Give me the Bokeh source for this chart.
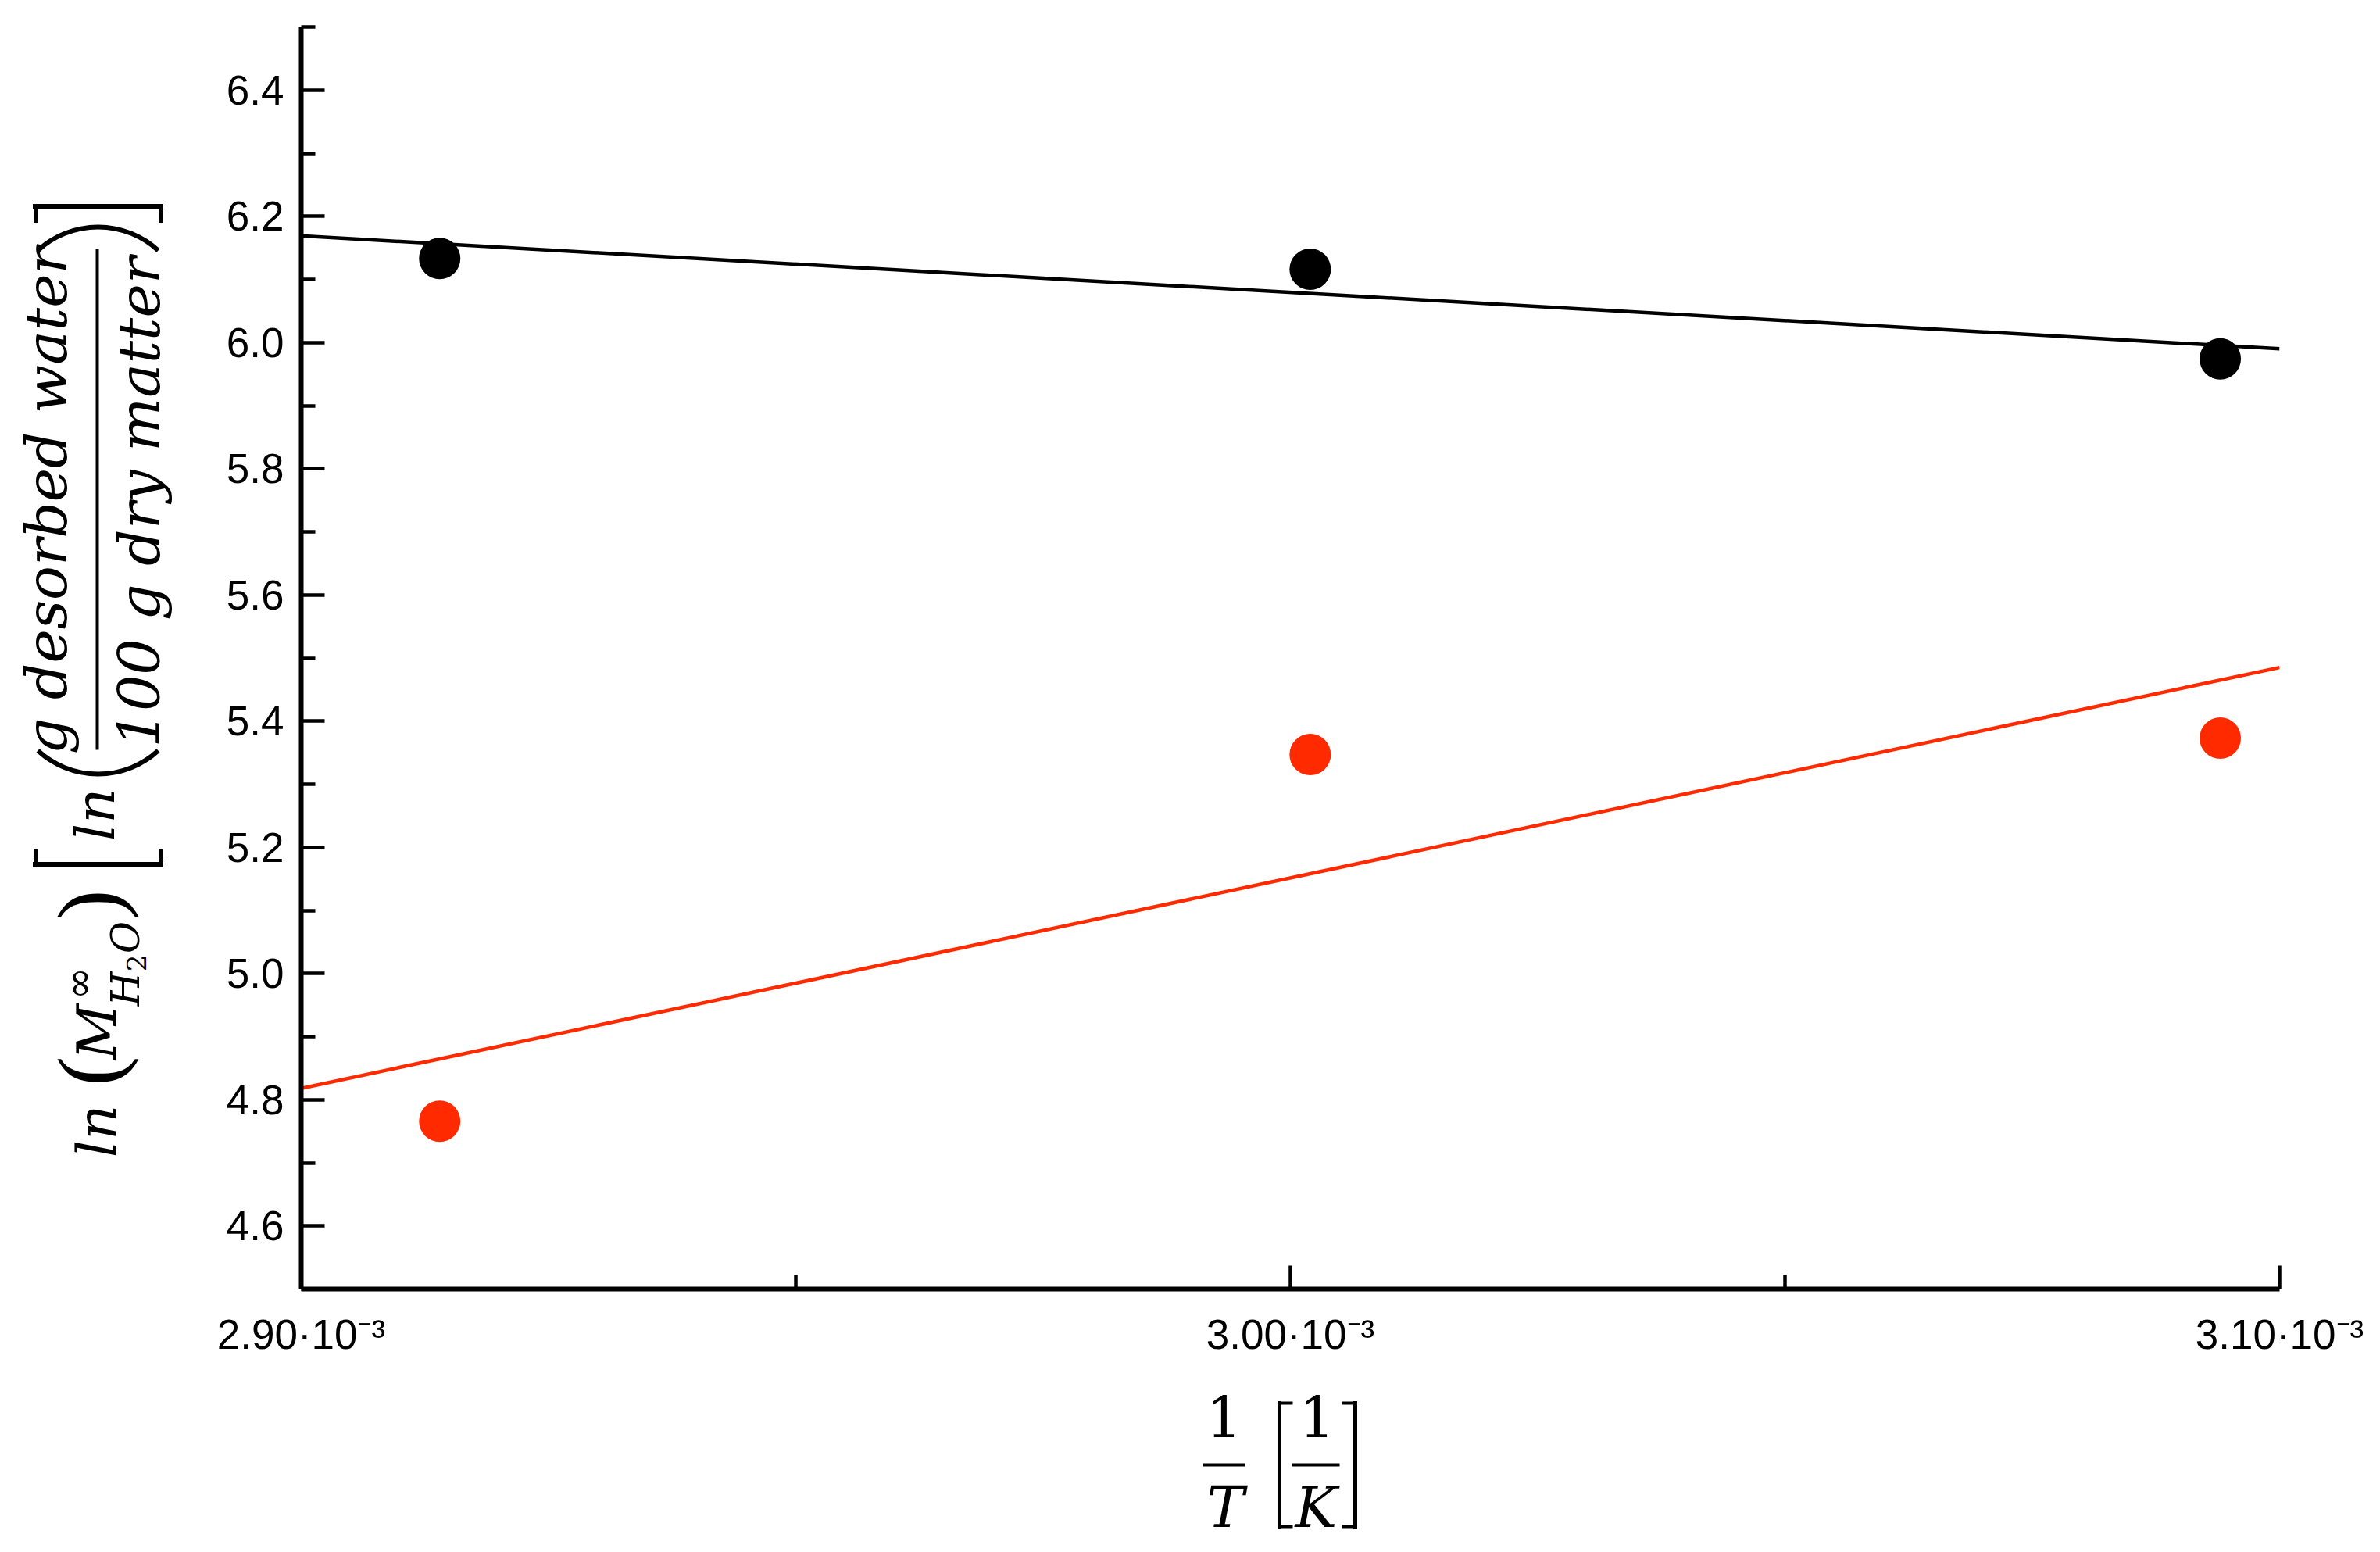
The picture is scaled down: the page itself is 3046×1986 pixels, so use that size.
from math import pi, asin
from bokeh.plotting import figure
from bokeh.layouts import row, column
from bokeh.models import Range1d, FixedTicker
from bokeh.core.properties import value
from bokeh.embed import file_html
from bokeh.resources import INLINE

# ---------------- data ----------------
inv_T = [0.002914, 0.003002, 0.003094]            # 1/T [1/K]
black_ln_M = [6.133, 6.116, 5.974]
red_ln_M = [4.766, 5.347, 5.373]
fit_inv_T = [0.00290, 0.00310]
black_fit = [6.169, 5.990]
red_fit = [4.818, 5.485]

x_ticks = [0.00290, 0.00300, 0.00310]
x_tick_labels = ["2.90·10⁻³", "3.00·10⁻³", "3.10·10⁻³"]
x_minor_ticks = [0.00295, 0.00305]
y_ticks = [4.6, 4.8, 5.0, 5.2, 5.4, 5.6, 5.8, 6.0, 6.2, 6.4]
y_tick_labels = ["4.6", "4.8", "5.0", "5.2", "5.4", "5.6", "5.8", "6.0", "6.2", "6.4"]
y_minor_ticks = [4.5, 4.7, 4.9, 5.1, 5.3, 5.5, 5.7, 5.9, 6.1, 6.3, 6.5]
x_lim = [0.00290, 0.00310]
y_lim = [4.5, 6.5]

# ---------------- layout (page pixels) ----------------
W, H = 3030, 1984
WL = 270            # width of the y-title strip
HM = 1760           # height of the main row
FL, FR, FT, FB = 385, 2917, 34, 1649   # plot frame edges

BLACK = "#000000"
RED = "#ff2a00"
SERIF = "DejaVu Serif"
PAREN = "Liberation Serif"
# distance from the text anchor to the alphabetic baseline, in em
BASE_SHIFT = {SERIF: 0.346, PAREN: 0.338}

p = figure(width=W - WL, height=HM, title=None, output_backend="svg",
           toolbar_location=None,
           x_range=Range1d(*x_lim), y_range=Range1d(*y_lim),
           min_border_left=FL - WL, min_border_right=W - FR,
           min_border_top=FT, min_border_bottom=HM - FB)
p.frame_align = False
p.outline_line_color = None
p.grid.visible = False
p.background_fill_color = "white"
p.border_fill_color = "white"

for ax in (p.xaxis[0], p.yaxis[0]):
    ax.axis_line_width = 6
    ax.axis_line_color = BLACK
    ax.major_tick_line_width = 4.5
    ax.minor_tick_line_width = 4.5
    ax.major_tick_in = 30
    ax.major_tick_out = 0
    ax.minor_tick_in = 18
    ax.minor_tick_out = 0
    ax.major_label_text_font = "Liberation Sans"
    ax.major_label_text_font_size = "53px"
    ax.major_label_text_color = BLACK

p.xaxis.ticker = FixedTicker(ticks=x_ticks, minor_ticks=x_minor_ticks)
p.xaxis.major_label_overrides = dict(zip(x_ticks, x_tick_labels))
p.xaxis.major_label_standoff = 28
p.yaxis.ticker = FixedTicker(ticks=y_ticks, minor_ticks=y_minor_ticks)
p.yaxis.major_label_overrides = dict(zip(y_ticks, y_tick_labels))
p.yaxis.major_label_standoff = 22

p.line(fit_inv_T, black_fit, line_color=BLACK, line_width=4.5)
p.line(fit_inv_T, red_fit, line_color=RED, line_width=4.5)
p.scatter(inv_T, black_ln_M, size=53, fill_color=BLACK, line_color=None)
p.scatter(inv_T, red_ln_M, size=53, fill_color=RED, line_color=None)


def strip(w, h):
    f = figure(width=w, height=h, title=None, output_backend="svg",
               toolbar_location=None, x_range=Range1d(0, w), y_range=Range1d(0, h),
               x_axis_type=None, y_axis_type=None, min_border=0)
    f.frame_align = False
    f.outline_line_color = None
    f.background_fill_color = "white"
    f.border_fill_color = "white"
    return f


# y-title strip: page x 0..WL, page y 0..HM
pl = strip(WL, HM)
# x-title strip: page x 0..W, page y HM..H
pb = strip(W, H - HM)

V = pi / 2


def txt(fig, ytop, text, rx, ry, size, font=SERIF, style="normal", angle=0.0):
    """rx, ry: page position of the baseline (centre of the text along its run)."""
    h = fig.height
    shift = BASE_SHIFT[font] * size
    if angle == V:
        rx = rx - shift
    else:
        ry = ry - shift
    fig.text(x=[rx], y=[h - (ry - ytop)], text=[text], angle=angle,
             text_align=value("center"), text_baseline=value("alphabetic"),
             text_font=value(font), text_font_size=value(f"{size}px"),
             text_font_style=value(style), text_color=BLACK)


def seg(fig, ytop, rx0, ry0, rx1, ry1, w):
    h = fig.height
    fig.segment(x0=[rx0], y0=[h - (ry0 - ytop)], x1=[rx1], y1=[h - (ry1 - ytop)],
                line_width=w, line_color=BLACK, line_cap="square")


def delim(fig, ytop, rx0, rx1, ry_end, ry_apex, w):
    """Stretched, thin rotated parenthesis drawn as a circular arc."""
    h = fig.height
    half = (rx1 - rx0) / 2
    sag = abs(ry_apex - ry_end)
    r = (half * half + sag * sag) / (2 * sag)
    a = asin(half / r)
    cx = (rx0 + rx1) / 2
    if ry_apex > ry_end:      # bulges downward on the page
        cy = h - (ry_apex - r - ytop)
        s, e = -pi / 2 - a, -pi / 2 + a
    else:                     # bulges upward on the page
        cy = h - (ry_apex + r - ytop)
        s, e = pi / 2 - a, pi / 2 + a
    fig.arc(x=[cx], y=[cy], radius=r, start_angle=s, end_angle=e,
            line_width=w, line_color=BLACK)


# ---------------- y-axis title (rotated) ----------------
txt(pl, 0, "ln", 148, 1447, 70, style="italic", angle=V)
txt(pl, 0, "(", 153, 1370, 115, font=PAREN, angle=V)
txt(pl, 0, "M", 148, 1320, 70, style="italic", angle=V)
txt(pl, 0, "∞", 118, 1258, 50, angle=V)
txt(pl, 0, "H", 178, 1265, 50, style="italic", angle=V)
txt(pl, 0, "2", 186, 1232, 34, angle=V)
txt(pl, 0, "O", 178, 1199, 50, style="italic", angle=V)
txt(pl, 0, ")", 153, 1157, 115, font=PAREN, angle=V)
seg(pl, 0, 45, 1106, 205, 1106, 7)
seg(pl, 0, 45, 1106, 45, 1088, 5)
seg(pl, 0, 205, 1106, 205, 1088, 5)
seg(pl, 0, 45, 264, 205, 264, 7)
seg(pl, 0, 45, 264, 45, 282, 5)
seg(pl, 0, 205, 264, 205, 282, 5)
txt(pl, 0, "ln", 146, 1042, 70, style="italic", angle=V)
delim(pl, 0, 48, 202, 960, 990, 6)
delim(pl, 0, 48, 202, 320, 290, 6)
txt(pl, 0, "g desorbed water", 84, 640, 73, style="italic", angle=V)
seg(pl, 0, 124, 320, 124, 957, 4)
txt(pl, 0, "100 g dry matter", 203, 642, 73, style="italic", angle=V)

# ---------------- x-axis title ----------------
txt(pb, HM, "1", 1566, 1838, 72)
seg(pb, HM, 1541, 1874, 1591, 1874, 4)
txt(pb, HM, "T", 1568, 1953, 72, style="italic")
seg(pb, HM, 1637, 1795, 1637, 1953, 5)
seg(pb, HM, 1637, 1795, 1652, 1795, 4)
seg(pb, HM, 1637, 1953, 1652, 1953, 4)
txt(pb, HM, "1", 1685, 1838, 72)
seg(pb, HM, 1655, 1874, 1712, 1874, 4)
txt(pb, HM, "K", 1684, 1953, 72, style="italic")
seg(pb, HM, 1734, 1795, 1734, 1953, 5)
seg(pb, HM, 1719, 1795, 1734, 1795, 4)
seg(pb, HM, 1719, 1953, 1734, 1953, 4)

layout = column(row(pl, p, spacing=0), pb, spacing=0)
open("out.html", "w").write(file_html(layout, INLINE))
